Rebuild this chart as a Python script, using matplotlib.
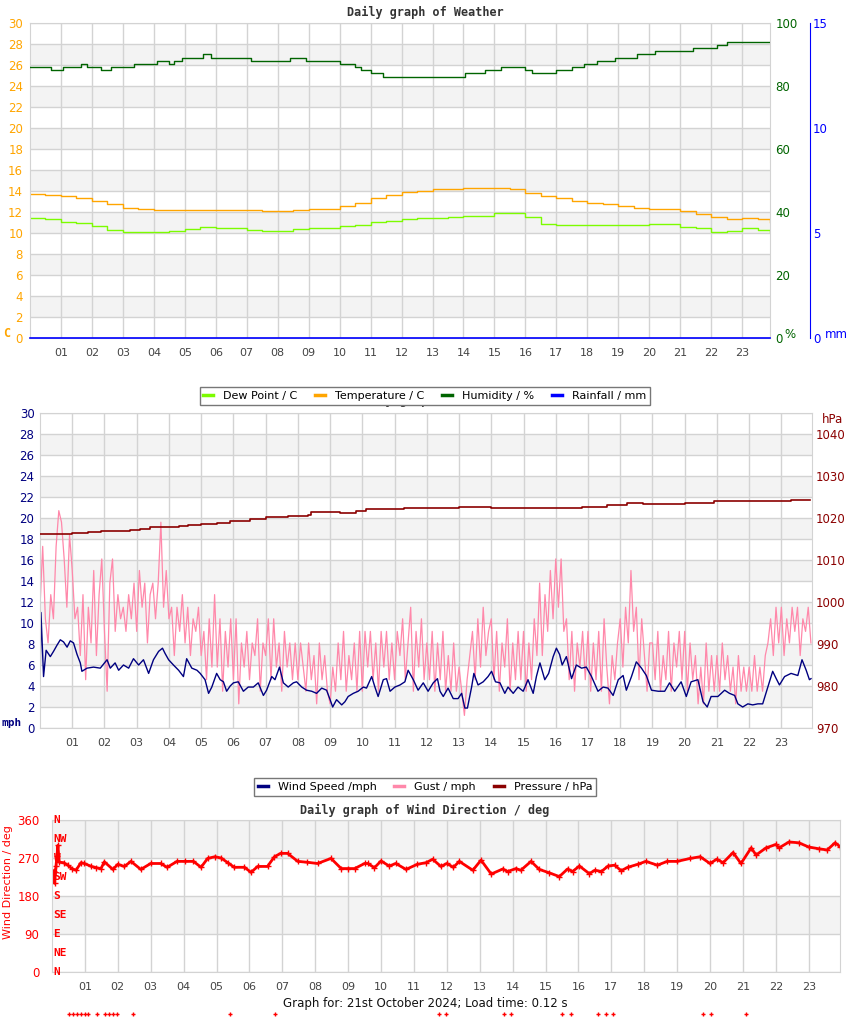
import numpy as np
import matplotlib
matplotlib.use("Agg")
import matplotlib.pyplot as plt
from matplotlib.lines import Line2D

# ---------------- top chart: temperature / dew point / humidity / rain ----------------
temp_hours = [i * 0.5 for i in range(48)] + [23.9]
temperature = [13.7, 13.6, 13.5, 13.3, 13.0, 12.8, 12.4, 12.3, 12.2, 12.2,
               12.2, 12.2, 12.2, 12.2, 12.2, 12.1, 12.1, 12.2, 12.25, 12.3,
               12.6, 12.9, 13.3, 13.6, 13.9, 14.0, 14.2, 14.2, 14.3, 14.3,
               14.3, 14.2, 13.8, 13.5, 13.3, 13.0, 12.9, 12.75, 12.6, 12.4,
               12.3, 12.25, 12.1, 11.8, 11.5, 11.3, 11.4, 11.3, 11.0]
dew_point = [11.4, 11.3, 11.0, 10.95, 10.7, 10.3, 10.1, 10.05, 10.1, 10.2,
             10.4, 10.55, 10.45, 10.45, 10.3, 10.2, 10.2, 10.4, 10.45, 10.45,
             10.7, 10.8, 11.0, 11.1, 11.3, 11.4, 11.45, 11.5, 11.6, 11.6,
             11.9, 11.9, 11.5, 10.9, 10.8, 10.75, 10.75, 10.8, 10.75, 10.8,
             10.85, 10.85, 10.6, 10.5, 10.1, 10.2, 10.45, 10.3, 10.1]

hum_hours = [0, 0.68, 1.05, 1.65, 1.84, 2.3, 2.6, 3.37, 4.1, 4.5, 4.65, 4.9, 5.6,
             5.84, 7.13, 8.4, 8.9, 10.0, 10.5, 10.7, 11.0, 11.4, 14.06, 14.7, 15.2,
             16.0, 16.2, 17.0, 17.5, 17.9, 18.3, 18.9, 19.6, 20.2, 21.4, 22.2, 22.5, 23.9]
humidity = [86, 85, 86, 87, 86, 85, 86, 87, 88, 87, 88, 89, 90,
            89, 88, 89, 88, 87, 86, 85, 84, 83, 84, 85, 86,
            85, 84, 85, 86, 87, 88, 89, 90, 91, 92, 93, 94, 94]

rain_hours = [0, 23.9]
rainfall = [0, 0]

# ---------------- middle chart: wind speed / gust / pressure ----------------
wind_hours = [0.01, 0.03, 0.11, 0.19, 0.32, 0.42, 0.53, 0.63, 0.73, 0.84, 0.94, 1.04, 1.15,
              1.25, 1.30, 1.46, 1.66, 1.87, 2.08, 2.18, 2.33, 2.44, 2.59, 2.75, 2.90,
              3.06, 3.21, 3.37, 3.52, 3.68, 3.80, 3.88, 3.99, 4.14, 4.30, 4.45, 4.55,
              4.71, 4.87, 4.97, 5.12, 5.23, 5.33, 5.48, 5.59, 5.69, 5.79, 5.90, 6.00,
              6.15, 6.31, 6.46, 6.62, 6.77, 6.93, 7.03, 7.19, 7.29, 7.43, 7.55, 7.70,
              7.86, 7.96, 8.12, 8.27, 8.43, 8.58, 8.74, 8.89, 9.00, 9.08, 9.20, 9.36,
              9.46, 9.56, 9.72, 9.87, 10.03, 10.13, 10.29, 10.39, 10.49, 10.65, 10.75,
              10.86, 11.01, 11.17, 11.32, 11.42, 11.58, 11.73, 11.89,
              12.04, 12.20, 12.33, 12.41, 12.51, 12.66, 12.82, 12.97, 13.08, 13.18,
              13.26, 13.39, 13.46, 13.59, 13.75, 13.90, 14.01, 14.13, 14.27, 14.42,
              14.52, 14.68, 14.83, 14.99, 15.14, 15.30, 15.40, 15.51, 15.66, 15.78,
              15.92, 16.02, 16.12, 16.20, 16.33, 16.49, 16.64, 16.80, 16.95, 17.11,
              17.31, 17.47, 17.62, 17.78, 17.94, 18.09, 18.19, 18.35, 18.50, 18.66,
              18.81, 18.97, 19.18, 19.38, 19.53, 19.69, 19.89, 20.05, 20.20, 20.41,
              20.57, 20.70, 20.82, 21.03, 21.24, 21.39, 21.55, 21.65, 21.80, 21.96,
              22.11, 22.27, 22.42, 22.58, 22.73, 22.84, 22.94, 23.10, 23.30, 23.51,
              23.64, 23.77, 23.87, 23.92]
wind_speed = [6.0, 11.0, 4.9, 7.4, 6.8, 7.3, 7.9, 8.4, 8.2, 7.7, 8.3, 8.1, 7.0,
              6.2, 5.4, 5.7, 5.8, 5.7, 6.5, 5.7, 6.2, 5.5, 6.0, 5.7, 6.6,
              6.0, 6.5, 5.2, 6.5, 7.3, 7.6, 7.1, 6.5, 6.0, 5.5, 4.9, 6.6,
              5.7, 5.5, 5.2, 4.6, 3.3, 3.9, 5.2, 4.6, 4.4, 3.5, 4.0, 4.3,
              4.4, 3.5, 3.9, 3.9, 4.3, 3.1, 3.6, 4.9, 4.6, 5.8, 4.3, 3.9,
              4.3, 4.4, 3.9, 3.6, 3.5, 3.3, 3.8, 3.6, 2.7, 2.0, 2.7, 2.2,
              2.5, 3.0, 3.3, 3.5, 3.9, 3.8, 4.9, 3.9, 3.0, 4.6, 4.7,
              3.5, 3.9, 4.1, 4.4, 5.5, 4.6, 3.6, 4.3,
              3.5, 4.3, 4.7, 3.5, 3.0, 3.8, 2.8, 2.8, 3.3, 1.9,
              1.9, 3.9, 5.2, 4.1, 4.4, 4.9, 5.4, 4.4, 4.3, 3.3,
              3.9, 3.3, 3.9, 3.5, 4.6, 3.3, 4.9, 6.2, 4.6, 5.2,
              6.8, 7.6, 7.0, 6.0, 6.8, 4.7, 6.0, 5.7, 5.8, 4.9,
              3.5, 3.9, 3.8, 3.1, 4.6, 5.0, 3.6, 4.9, 6.3, 5.7,
              5.0, 3.6, 3.5, 3.5, 4.3, 3.5, 4.4, 3.0, 4.4, 4.6,
              2.5, 2.0, 3.0, 3.0, 3.6, 3.3, 3.1, 2.3, 2.0, 2.3,
              2.2, 2.3, 2.3, 3.9, 5.4, 4.7, 4.1, 4.9, 5.2, 5.0,
              6.5, 5.5, 4.6, 4.7]

# gust is logged every 5 minutes (12 readings per hour)
gust_hours = [i / 12 for i in range(288)]
gust = [11.5, 17.3, 10.4, 8.1, 12.7, 10.4, 17.3, 20.7, 19.6, 16.1, 11.5, 18.4,    # 00
        15.0, 10.4, 11.5, 6.9, 12.7, 4.6, 11.5, 8.1, 15.0, 6.9, 12.7, 16.1,       # 01
        9.2, 3.5, 13.8, 16.1, 9.2, 12.7, 10.4, 11.5, 9.2, 12.7, 10.4, 13.8,       # 02
        9.2, 15.0, 11.5, 13.8, 8.1, 12.7, 13.8, 10.4, 13.8, 19.6, 11.5, 15.0,     # 03
        10.4, 11.5, 6.9, 11.5, 9.2, 12.7, 8.1, 11.5, 6.9, 10.4, 9.2, 11.5,        # 04
        6.9, 9.2, 4.6, 10.4, 5.8, 12.7, 5.8, 10.4, 3.5, 9.2, 5.8, 10.4,           # 05
        4.6, 10.4, 2.3, 8.1, 5.8, 9.2, 4.6, 8.1, 6.9, 10.4, 3.5, 8.1,             # 06
        6.9, 10.4, 4.6, 10.4, 5.8, 8.1, 3.5, 9.2, 5.8, 8.1, 4.6, 8.1,             # 07
        4.6, 8.1, 5.8, 3.5, 8.1, 4.6, 6.9, 2.3, 8.1, 4.6, 6.9, 3.5,               # 08
        2.3, 5.8, 3.5, 8.1, 4.6, 9.2, 3.5, 6.9, 4.6, 8.1, 3.5, 9.2,               # 09
        3.5, 9.2, 5.8, 9.2, 4.6, 8.1, 3.5, 9.2, 5.8, 9.2, 4.6, 8.1,               # 10
        4.6, 9.2, 6.9, 10.4, 4.6, 8.1, 11.5, 3.5, 9.2, 5.8, 10.4, 4.6,            # 11
        8.1, 4.6, 9.2, 3.5, 8.1, 4.6, 9.2, 3.5, 6.9, 3.5, 8.1, 3.5,               # 12
        5.8, 3.5, 1.2, 4.6, 6.9, 9.2, 4.6, 10.4, 5.8, 11.5, 6.9, 9.2,             # 13
        10.4, 4.6, 9.2, 3.5, 8.1, 5.8, 10.4, 3.5, 8.1, 4.6, 9.2, 4.6,             # 14
        9.2, 3.5, 8.1, 4.6, 10.4, 6.9, 13.8, 6.9, 12.7, 9.2, 15.0, 10.4,          # 15
        16.1, 11.5, 16.1, 9.2, 10.4, 4.6, 9.2, 3.5, 8.1, 5.8, 9.2, 4.6,           # 16
        9.2, 3.5, 8.1, 4.6, 9.2, 3.5, 10.4, 5.8, 2.3, 6.9, 4.6, 8.1,              # 17
        10.4, 5.8, 11.5, 8.1, 15.0, 9.2, 11.5, 4.6, 10.4, 6.9, 3.5, 8.1,          # 18
        8.1, 4.6, 9.2, 3.5, 6.9, 4.6, 9.2, 3.5, 8.1, 5.8, 9.2, 4.6,               # 19
        9.2, 3.5, 8.1, 4.6, 6.9, 2.3, 5.8, 2.3, 8.1, 3.5, 6.9, 3.5,               # 20
        6.9, 3.5, 8.1, 4.6, 6.9, 3.5, 5.8, 2.3, 6.9, 3.5, 5.8, 3.5,               # 21
        5.8, 3.5, 6.9, 3.5, 5.8, 3.5, 6.9, 8.1, 10.4, 6.9, 11.5, 8.1,             # 22
        11.5, 6.9, 10.4, 8.1, 11.5, 9.2, 11.5, 6.9, 10.4, 9.2, 11.5, 8.1]         # 23

press_hours = [0, 0.6, 1.0, 1.5, 1.9, 2.8, 3.1, 3.4, 4.0, 4.3, 4.6, 5.0, 5.5, 5.9,
               6.5, 7.0, 7.7, 8.3, 8.4, 9.0, 9.3, 9.8, 10.1, 11.0, 11.3, 11.8, 12.5,
               13.0, 14.0, 15.0, 16.1, 16.8, 17.6, 18.2, 18.7, 20.0, 20.9, 22.1, 23.3, 23.9]
pressure = [1016.1, 1016.3, 1016.5, 1016.7, 1017.0, 1017.1, 1017.5, 1017.9, 1017.9,
            1018.0, 1018.3, 1018.6, 1018.9, 1019.4, 1019.8, 1020.3, 1020.5, 1020.8,
            1021.4, 1021.5, 1021.3, 1021.7, 1022.1, 1022.2, 1022.5, 1022.3, 1022.3,
            1022.6, 1022.4, 1022.3, 1022.4, 1022.7, 1023.0, 1023.5, 1023.3, 1023.5,
            1024.0, 1024.0, 1024.4, 1024.4]

# ---------------- bottom chart: wind direction ----------------
dir_hours = [0.05, 0.08, 0.12, 0.15, 0.18, 0.22, 0.35, 0.48, 0.6, 0.73, 0.88, 0.98,
             1.2, 1.35, 1.49, 1.59, 1.85, 2.0, 2.2, 2.4, 2.7, 3.0, 3.3, 3.5, 3.8,
             4.05, 4.3, 4.53, 4.73, 4.95, 5.14, 5.34, 5.54, 5.85, 6.05, 6.25, 6.55,
             6.76, 6.95, 7.16, 7.47, 7.75, 8.07, 8.48, 8.79, 9.0, 9.2, 9.5, 9.6,
             9.8, 10.0, 10.25, 10.45, 10.76, 11.1, 11.37, 11.57, 11.82, 12.0, 12.2,
             12.38, 12.79, 13.04, 13.35, 13.7, 13.85, 14.1, 14.25, 14.56, 14.81,
             15.11, 15.42, 15.67, 15.82, 16.03, 16.33, 16.5, 16.7, 16.9, 17.1, 17.3,
             17.5, 17.8, 18.05, 18.4, 18.7, 19.0, 19.4, 19.7, 20.0, 20.2, 20.4,
             20.7, 20.94, 21.25, 21.4, 21.7, 22.0, 22.1, 22.4, 22.7, 23.0, 23.3,
             23.56, 23.8, 23.95]
wind_dir = [240, 210, 250, 275, 300, 260, 259, 253, 245, 241, 259, 257,
            250, 247, 245, 261, 243, 255, 250, 262, 243, 257, 257, 248, 262,
            262, 262, 248, 269, 273, 270, 259, 248, 248, 236, 250, 250,
            273, 281, 281, 262, 260, 257, 269, 245, 245, 245, 257, 257,
            247, 263, 251, 257, 243, 255, 259, 267, 250, 257, 248,
            262, 241, 265, 232, 244, 238, 245, 241, 262, 243,
            235, 226, 244, 238, 251, 233, 241, 238, 251, 253, 240,
            248, 255, 262, 253, 262, 262, 269, 273, 257, 267, 259,
            283, 257, 294, 277, 294, 302, 294, 308, 306, 296, 292,
            289, 306, 297]

calm_hours = [0.52, 0.64, 0.76, 0.88, 1.0, 1.09, 1.37, 1.61, 1.73, 1.85, 1.98, 2.46,
              5.41, 6.78, 11.76, 11.98, 13.74, 13.95, 15.5, 15.78, 16.6, 16.84, 17.05,
              19.79, 20.03, 21.09]
calm_dir = -100

hour_labels = ["%02d" % h for h in range(1, 24)]
compass = ["N", "NW", "W", "SW", "S", "SE", "E", "NE", "N"]
compass_deg = [360, 315, 270, 225, 180, 135, 90, 45, 0]

BAND = "#f3f3f3"
GRID = "#d3d3d3"
TXT = "#444444"
W, H = 850, 1017


def fx(px):
    return px / W


def fy(py):
    return 1 - py / H


def style_axes(ax, xmax):
    ax.set_xlim(0, xmax)
    ax.set_xticks(range(1, 24))
    ax.set_xticklabels(hour_labels)
    ax.grid(True, color=GRID, lw=1)
    ax.set_axisbelow(True)
    ax.tick_params(axis="both", length=0)
    ax.tick_params(axis="x", colors=TXT, labelsize=8, pad=7)
    for s in ax.spines.values():
        s.set_color(GRID)


fig = plt.figure(figsize=(8.5, 10.17), dpi=100)

# ---- top chart ----
ax1 = fig.add_axes([fx(30), fy(338), fx(740), 315 / H])
style_axes(ax1, 23.9)
ax1.set_ylim(0, 30)
ax1.set_yticks(range(0, 31, 2))
ax1.tick_params(axis="y", colors="#ffa500", labelsize=8.5, pad=5)
for lo in range(2, 30, 4):
    ax1.axhspan(lo, lo + 2, color=BAND, zorder=0, lw=0)
ax1.plot(temp_hours, dew_point, color="#7cfc00", lw=1, drawstyle="steps-post")
ax1.plot(temp_hours, temperature, color="#ffa500", lw=1, drawstyle="steps-post")

ax1h = ax1.twinx()
ax1h.set_ylim(0, 100)
ax1h.set_yticks(range(0, 101, 20))
ax1h.tick_params(axis="y", colors="#006400", labelsize=8.5, length=0, pad=4)
for s in ax1h.spines.values():
    s.set_visible(False)
ax1h.plot(hum_hours, humidity, color="#006400", lw=1, drawstyle="steps-post")

ax1r = ax1.twinx()
ax1r.set_ylim(0, 15)
ax1r.set_yticks([0, 5, 10, 15])
ax1r.tick_params(axis="y", colors="#0000ff", labelsize=8.5, length=0, pad=2)
for name, s in ax1r.spines.items():
    s.set_visible(name == "right")
ax1r.spines["right"].set_position(("outward", 29))
ax1r.spines["right"].set_color("#0000ff")
ax1r.plot(rain_hours, rainfall, color="#0000ff", lw=1.2, clip_on=False)

fig.text(0.5, fy(12), "Daily graph of Weather", ha="center", va="center",
         family="DejaVu Sans Mono", weight="bold", fontsize=8.5, color="#333333")
fig.text(fx(3), fy(333), "C", color="#ffa500", weight="bold", fontsize=8.5,
         family="DejaVu Sans Mono", ha="left", va="center")
fig.text(fx(784), fy(334), "%", color="#006400", fontsize=8.5, ha="left", va="center")
fig.text(fx(825), fy(334), "mm", color="#0000ff", fontsize=8.5, ha="left", va="center")

leg1 = [Line2D([], [], color="#7cfc00", lw=2.5),
        Line2D([], [], color="#ffa500", lw=2.5),
        Line2D([], [], color="#006400", lw=2.5),
        Line2D([], [], color="#0000ff", lw=2.5)]
fig.legend(leg1, ["Dew Point / C", "Temperature / C", "Humidity / %", "Rainfall / mm"],
           loc="center", bbox_to_anchor=(fx(425), fy(396)), ncol=4, fontsize=8,
           frameon=True, fancybox=False, edgecolor="#777777", framealpha=1,
           handlelength=0.9, handletextpad=0.9, columnspacing=1.6, borderpad=0.35)

# ---- middle chart ----
# title sits behind the legend box, only its descenders peek out
fig.text(0.5, fy(400), "Daily graph of Wind", ha="center", va="center",
         family="DejaVu Sans Mono", weight="bold", fontsize=8.5, color="#333333")
ax2 = fig.add_axes([fx(40), fy(728), fx(772), 315 / H])
style_axes(ax2, 23.95)
ax2.set_ylim(0, 30)
ax2.set_yticks(range(0, 31, 2))
ax2.tick_params(axis="y", colors="#000080", labelsize=8.5, pad=4)
for lo in range(2, 30, 4):
    ax2.axhspan(lo, lo + 2, color=BAND, zorder=0, lw=0)
ax2.plot(gust_hours, gust, color="#ff88aa", lw=0.9)
ax2.plot(wind_hours, wind_speed, color="#000080", lw=1)

ax2p = ax2.twinx()
ax2p.set_ylim(970, 1045)
ax2p.set_yticks(range(970, 1041, 10))
ax2p.tick_params(axis="y", colors="#8b0000", labelsize=8.5, length=0, pad=3)
for s in ax2p.spines.values():
    s.set_visible(False)
ax2p.plot(press_hours, pressure, color="#8b0000", lw=1.2, drawstyle="steps-post")

fig.text(fx(1), fy(723), "mph", color="#000080", weight="bold", fontsize=8,
         family="DejaVu Sans Mono", ha="left", va="center")
fig.text(fx(822), fy(419), "hPa", color="#8b0000", fontsize=8.5, ha="left", va="center")

leg2 = [Line2D([], [], color="#000080", lw=2.5),
        Line2D([], [], color="#ff88aa", lw=2.5),
        Line2D([], [], color="#8b0000", lw=2.5)]
fig.legend(leg2, ["Wind Speed /mph", "Gust / mph", "Pressure / hPa"],
           loc="center", bbox_to_anchor=(fx(425), fy(787)), ncol=3, fontsize=8,
           frameon=True, fancybox=False, edgecolor="#777777", framealpha=1,
           handlelength=0.9, handletextpad=0.9, columnspacing=1.6, borderpad=0.35)

# ---- bottom chart ----
fig.text(0.5, fy(810), "Daily graph of Wind Direction / deg", ha="center", va="center",
         family="DejaVu Sans Mono", weight="bold", fontsize=8.5, color="#333333")
ax3 = fig.add_axes([fx(52), fy(972), fx(788), 152 / H])
style_axes(ax3, 23.95)
ax3.set_ylim(0, 360)
ax3.set_yticks([0, 90, 180, 270, 360])
ax3.tick_params(axis="y", colors="#ff0000", labelsize=8.5, pad=9)
ax3.axhspan(270, 360, color=BAND, zorder=0, lw=0)
ax3.axhspan(90, 180, color=BAND, zorder=0, lw=0)
ax3.plot(dir_hours, wind_dir, color="#ff0000", lw=2, marker="+", ms=4, mew=1)
ax3.plot(calm_hours, [calm_dir] * len(calm_hours), "+", color="#ff0000", ms=3.5,
         mew=1, clip_on=False)
for lab, d in zip(compass, compass_deg):
    ax3.text(0.002, d, lab, transform=ax3.get_yaxis_transform(), color="#ff0000",
             family="DejaVu Sans Mono", weight="bold", fontsize=8, ha="left", va="center")
fig.text(fx(8), fy(882), "Wind Direction / deg", rotation=90, color="#ff0000",
         fontsize=8, ha="center", va="center")

fig.text(0.5, fy(1004), "Graph for: 21st October 2024; Load time: 0.12 s",
         ha="center", va="center", fontsize=8.5, color="#111111")

fig.savefig("out.png", dpi=100)
